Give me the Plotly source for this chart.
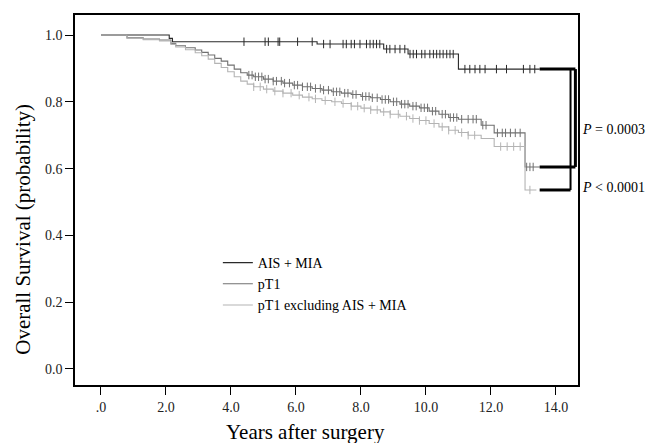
import bisect
import plotly.graph_objects as go

# ---- data ----
ais_t = [0, 2.1, 2.2, 6.65, 8.7, 9.45, 11.0, 13.5]
ais_s = [1.0, 0.99, 0.98, 0.973, 0.958, 0.943, 0.898, 0.898]
ais_cens = [4.4, 5.05, 5.15, 5.45, 5.5, 6.05, 6.5, 6.85, 7.05, 7.45, 7.55, 7.7, 7.8,
            7.97, 8.17, 8.28, 8.38, 8.48, 8.58, 8.79, 8.89, 9.05, 9.2, 9.35, 9.51,
            9.61, 9.71, 9.87, 9.97, 10.12, 10.23, 10.33, 10.43, 10.53, 10.64, 10.74,
            10.84, 11.2, 11.35, 11.51, 11.66, 11.82, 12.17, 12.48, 13.0, 13.2, 13.35]

pt1_t = [0, 0.8, 1.3, 1.8, 2.15, 2.3, 2.6, 2.9, 3.1, 3.3, 3.5, 3.7, 3.9, 4.1, 4.3,
         4.5, 4.7, 5.0, 5.3, 5.6, 5.9, 6.2, 6.5, 6.8, 7.1, 7.4, 7.7, 8.0, 8.3, 8.6,
         8.9, 9.2, 9.5, 9.8, 10.1, 10.4, 10.7, 11.0, 11.7, 12.1, 13.05, 13.5]
pt1_s = [1.0, 0.992, 0.988, 0.985, 0.975, 0.968, 0.962, 0.955, 0.948, 0.94, 0.93,
         0.922, 0.91, 0.898, 0.887, 0.88, 0.875, 0.868, 0.862, 0.856, 0.85, 0.845,
         0.84, 0.835, 0.83, 0.826, 0.822, 0.816, 0.812, 0.807, 0.8, 0.793, 0.787,
         0.782, 0.772, 0.763, 0.753, 0.748, 0.73, 0.707, 0.605, 0.605]
pt1_cens = [4.55, 4.65, 4.75, 4.85, 4.95, 5.05, 5.15, 5.3, 5.4, 5.55, 5.65, 5.8, 5.95,
            6.05, 6.2, 6.35, 6.45, 6.6, 6.75, 6.85, 7.0, 7.15, 7.25, 7.35, 7.5, 7.6,
            7.75, 7.85, 8.05, 8.15, 8.25, 8.35, 8.5, 8.65, 8.75, 8.85, 9.0, 9.1, 9.25,
            9.35, 9.45, 9.6, 9.7, 9.85, 9.95, 10.05, 10.2, 10.3, 10.5, 10.6, 10.75,
            10.85, 10.95, 11.1, 11.3, 11.45, 11.55, 11.75, 11.85, 12.2, 12.35, 12.45,
            12.6, 12.75, 12.9, 13.1, 13.2, 13.3]

exc_t = [0, 0.8, 1.3, 1.8, 2.15, 2.3, 2.6, 2.9, 3.1, 3.3, 3.5, 3.7, 3.9, 4.1, 4.3,
         4.5, 4.7, 5.0, 5.3, 5.6, 5.9, 6.2, 6.5, 6.8, 7.1, 7.4, 7.7, 8.0, 8.3, 8.6,
         8.9, 9.2, 9.5, 9.8, 10.1, 10.4, 10.7, 11.0, 11.3, 11.7, 12.1, 13.05, 13.4]
exc_s = [1.0, 0.99, 0.986, 0.982, 0.972, 0.964, 0.956, 0.947, 0.938, 0.928, 0.915,
         0.903, 0.89, 0.875, 0.862, 0.853, 0.845, 0.838, 0.832, 0.826, 0.82, 0.814,
         0.809, 0.804, 0.8, 0.795, 0.787, 0.781, 0.776, 0.77, 0.763, 0.757, 0.75,
         0.744, 0.735, 0.725, 0.715, 0.708, 0.70, 0.69, 0.666, 0.536, 0.536]
exc_cens = [4.7, 4.9, 5.1, 5.35, 5.6, 5.85, 6.1, 6.4, 6.6, 6.9, 7.2, 7.45, 7.7, 7.9,
            8.1, 8.3, 8.5, 8.7, 8.9, 9.15, 9.4, 9.6, 9.8, 10.0, 10.25, 10.5, 10.7,
            10.9, 11.1, 11.3, 11.5, 12.3, 12.5, 12.7, 12.9, 13.2]

x_ticks = [0, 2, 4, 6, 8, 10, 12, 14]
x_labels = [".0", "2.0", "4.0", "6.0", "8.0", "10.0", "12.0", "14.0"]
y_ticks = [0.0, 0.2, 0.4, 0.6, 0.8, 1.0]
y_labels = ["0.0", "0.2", "0.4", "0.6", "0.8", "1.0"]

names = ["AIS + MIA", "pT1", "pT1 excluding AIS + MIA"]
colors = ["#2a2a2a", "#707070", "#b4b4b4"]
p_labels = ["<i>P</i> = 0.0003", "<i>P</i> &lt; 0.0001"]

SERIF = "Liberation Serif"


def surv_at(ts, ss, t):
    i = bisect.bisect_right(ts, t) - 1
    return ss[max(i, 0)]


fig = go.Figure()
series = [(ais_t, ais_s, ais_cens), (pt1_t, pt1_s, pt1_cens), (exc_t, exc_s, exc_cens)]
for (ts, ss, cs), name, col in zip(series, names, colors):
    fig.add_trace(go.Scatter(x=ts, y=ss, mode="lines", name=name,
                             line=dict(color=col, width=1.1, shape="hv")))
for (ts, ss, cs), name, col in zip(series, names, colors):
    fig.add_trace(go.Scatter(x=cs, y=[surv_at(ts, ss, c) for c in cs], mode="markers",
                             showlegend=False,
                             marker=dict(symbol="line-ns", size=6,
                                         line=dict(color=col, width=1))))

# brackets with p-values
end_ais = ais_s[-1]
end_pt1 = pt1_s[-1]
end_exc = exc_s[-1]
x_start = ais_t[-1]
xb_outer = 14.6
xb_inner = 14.45
for y0, xe in [(end_ais, xb_outer), (end_pt1, xb_outer), (end_exc, xb_inner)]:
    fig.add_shape(type="line", x0=x_start, x1=xe, y0=y0, y1=y0, xref="x", yref="y",
                  line=dict(color="black", width=3))
fig.add_shape(type="line", x0=xb_outer, x1=xb_outer, y0=end_ais, y1=end_pt1,
              xref="x", yref="y", line=dict(color="black", width=3))
fig.add_shape(type="line", x0=xb_inner, x1=xb_inner, y0=end_ais, y1=end_exc,
              xref="x", yref="y", line=dict(color="black", width=2))

fig.add_annotation(x=1.004, xref="paper", y=0.716, yref="y",
                   text=p_labels[0], showarrow=False, xanchor="left", yanchor="middle",
                   font=dict(family=SERIF, size=14, color="black"))
fig.add_annotation(x=1.004, xref="paper", y=0.542, yref="y",
                   text=p_labels[1], showarrow=False, xanchor="left", yanchor="middle",
                   font=dict(family=SERIF, size=14, color="black"))

# axis titles
fig.add_annotation(x=0.459, xref="paper", y=(385 - 432) / 370, yref="paper",
                   text="Years after surgery", xanchor="center", yanchor="middle",
                   showarrow=False, font=dict(family=SERIF, size=21, color="black"))
fig.add_annotation(x=-0.105, xref="paper", y=0.42, yref="paper",
                   text="Overall Survival (probability)", textangle=-90,
                   xanchor="center", yanchor="middle",
                   showarrow=False, font=dict(family=SERIF, size=21, color="black"))

fig.update_layout(
    width=648, height=443,
    margin=dict(l=75, r=70, t=15, b=58),
    paper_bgcolor="white", plot_bgcolor="white",
    font=dict(family=SERIF, size=14, color="black"),
    legend=dict(x=0.284, y=0.373, xanchor="left", yanchor="top",
                font=dict(family=SERIF, size=14, color="black"),
                bgcolor="rgba(0,0,0,0)", tracegroupgap=0),
    showlegend=True,
)
fig.update_xaxes(range=[-0.8, 14.68], tickvals=x_ticks, ticktext=x_labels,
                 showgrid=False, zeroline=False, showline=True, mirror=True,
                 linecolor="black", linewidth=1.5, ticks="outside", ticklen=8,
                 tickcolor="black", tickwidth=1.2,
                 tickfont=dict(family=SERIF, size=14, color="#222"))
fig.update_yaxes(range=[-0.048, 1.06], tickvals=y_ticks, ticktext=y_labels,
                 showgrid=False, zeroline=False, showline=True, mirror=True,
                 linecolor="black", linewidth=1.5, ticks="outside", ticklen=8,
                 tickcolor="black", tickwidth=1.2,
                 tickfont=dict(family=SERIF, size=14, color="#222"))

fig.write_html("out.html", config={"displayModeBar": False},
               post_script="document.body.style.margin='0px';")
